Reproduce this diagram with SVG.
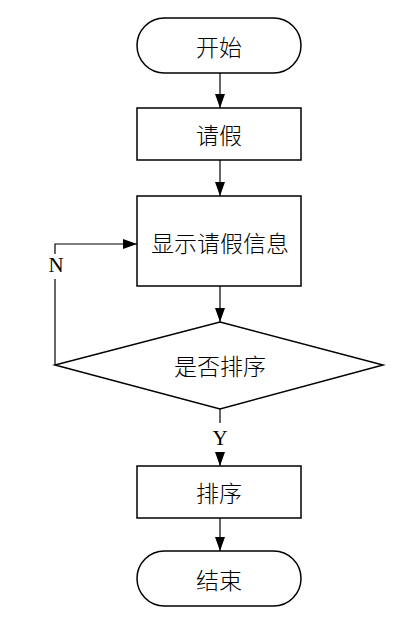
<svg xmlns="http://www.w3.org/2000/svg" width="413" height="625" viewBox="0 0 413 625">
<style>
.shape{fill:#fff;stroke:#000;stroke-width:1.5}
.line{fill:none;stroke:#000;stroke-width:1.2}
.t{font-family:"Noto Sans CJK SC","Noto Sans",sans-serif;font-size:23px;font-weight:300;fill:#000;text-anchor:middle;dominant-baseline:central}
.l{font-family:"Liberation Serif",serif;font-size:21px;fill:#000;text-anchor:middle;dominant-baseline:central}
</style>
<defs>
<marker id="arr" viewBox="0 0 14 10" refX="14" refY="5" markerWidth="14" markerHeight="10" markerUnits="userSpaceOnUse" orient="auto">
<path d="M0,0 L14,5 L0,10 Z" fill="#000"/>
</marker>
</defs>
<rect width="413" height="625" fill="#fff"/>
<g id="connectors">
<line class="line" x1="220" y1="73" x2="220" y2="108" marker-end="url(#arr)"/>
<line class="line" x1="220" y1="160" x2="220" y2="196" marker-end="url(#arr)"/>
<line class="line" x1="220" y1="286" x2="220" y2="322" marker-end="url(#arr)"/>
<line class="line" x1="220" y1="409" x2="220" y2="423"/>
<line class="line" x1="220" y1="452" x2="220" y2="466" marker-end="url(#arr)"/>
<line class="line" x1="220" y1="518" x2="220" y2="551" marker-end="url(#arr)"/>
<polyline class="line" points="55,365 55,279"/>
<polyline class="line" points="55,254 55,244 137,244" marker-end="url(#arr)"/>
<text class="l" x="220" y="438">Y</text>
<text class="l" x="56" y="265">N</text>
</g>
<g id="start">
<rect class="shape" x="137" y="18" width="164" height="55" rx="27.5" ry="27.5"/>
<text class="t" x="219" y="45.5">开始</text>
</g>
<g id="leave">
<rect class="shape" x="137" y="108" width="164" height="52"/>
<text class="t" x="219" y="134">请假</text>
</g>
<g id="show">
<rect class="shape" x="137" y="196" width="164" height="90"/>
<text class="t" x="220" y="242">显示请假信息</text>
</g>
<g id="decision">
<polygon class="shape" points="220,322 383,365 220,409 55,365"/>
<text class="t" x="220" y="365">是否排序</text>
</g>
<g id="sort">
<rect class="shape" x="137" y="466" width="164" height="52"/>
<text class="t" x="219" y="492">排序</text>
</g>
<g id="end">
<rect class="shape" x="137" y="551" width="164" height="55" rx="27.5" ry="27.5"/>
<text class="t" x="219" y="578.5">结束</text>
</g>
</svg>
